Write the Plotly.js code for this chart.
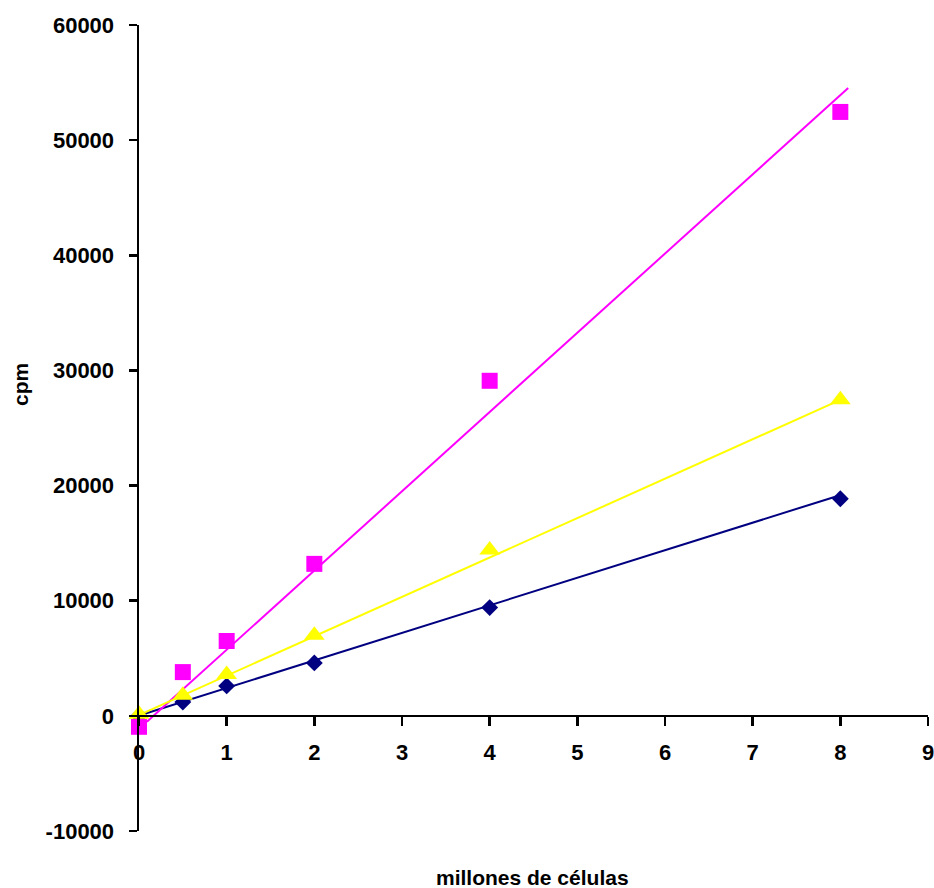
<!DOCTYPE html>
<html>
<head>
<meta charset="utf-8">
<script src="https://cdn.plot.ly/plotly-3.0.1.min.js"></script>
<style>html,body{margin:0;padding:0;background:#fff;}#chart{width:934px;height:888px;}</style>
</head>
<body>
<div id="chart"></div>
<script>
// Data
var cells = [0, 0.5, 1, 2, 4, 8];               // millones de células
var serieAzul = [0, 1200, 2600, 4600, 9400, 18850];
var serieMagenta = [-950, 3800, 6500, 13200, 29100, 52450];
var serieAmarilla = [150, 1800, 3600, 7000, 14400, 27450];

// Linear trendline endpoints
var trendAzulX = [0.03, 7.97];
var trendAzulY = [100, 19100];
var trendMagentaX = [0.09, 8.09];
var trendMagentaY = [-520, 54530];
var trendAmarillaX = [0.03, 7.93];
var trendAmarillaY = [170, 27200];

var yTickVals = [-10000, 0, 10000, 20000, 30000, 40000, 50000, 60000];
var yTickText = ["-10000", "0", "10000", "20000", "30000", "40000", "50000", "60000"];
var xTickVals = [0, 1, 2, 3, 4, 5, 6, 7, 8, 9];

var navy = '#000080', magenta = '#FF00FF', yellow = '#FFFF00';

var traces = [
  {x: trendAzulX, y: trendAzulY, mode: 'lines', line: {color: navy, width: 2}, hoverinfo: 'skip'},
  {x: trendMagentaX, y: trendMagentaY, mode: 'lines', line: {color: magenta, width: 2}, hoverinfo: 'skip'},
  {x: trendAmarillaX, y: trendAmarillaY, mode: 'lines', line: {color: yellow, width: 2}, hoverinfo: 'skip'},
  {x: cells, y: serieAzul, mode: 'markers', cliponaxis: false,
   marker: {symbol: 'diamond', size: 13, color: navy, line: {width: 0}}},
  {x: cells, y: serieMagenta, mode: 'markers', cliponaxis: false,
   marker: {symbol: 'square', size: 16, color: magenta, line: {width: 0}}},
  {x: cells, y: serieAmarilla, mode: 'markers', cliponaxis: false,
   marker: {symbol: 'triangle-up', size: 18, color: yellow, line: {width: 0}}}
];

var tickFont = {family: 'Liberation Sans, Arial, sans-serif', size: 22, color: '#000', weight: 'bold'};

var layout = {
  width: 934, height: 888,
  margin: {l: 139, r: 6, t: 25, b: 57},
  paper_bgcolor: '#fff', plot_bgcolor: '#fff',
  showlegend: false,
  xaxis: {
    range: [0, 9], tickvals: xTickVals, ticktext: xTickVals.map(String),
    anchor: 'free', position: 10000 / 70000,
    showline: true, linecolor: '#000', linewidth: 2.5,
    ticks: 'outside', ticklen: 9, tickwidth: 2.5, tickcolor: '#000',
    showgrid: false, zeroline: false,
    tickfont: tickFont, ticklabelstandoff: 7, ticklabeloverflow: 'allow'
  },
  yaxis: {
    range: [-10000, 60000], tickvals: yTickVals, ticktext: yTickText,
    showline: true, linecolor: '#000', linewidth: 2.5,
    ticks: 'outside', ticklen: 8, tickwidth: 2.5, tickcolor: '#000',
    showgrid: false, zeroline: false,
    tickfont: tickFont, ticklabelstandoff: 10, ticklabeloverflow: 'allow'
  },
  annotations: [
    {text: 'millones de células', xref: 'paper', yref: 'paper',
     x: (532 - 139) / 789, y: -(877 - 831) / 806, xanchor: 'center', yanchor: 'middle',
     showarrow: false, font: {family: 'Liberation Sans, Arial, sans-serif', size: 21, color: '#000', weight: 'bold'}},
    {text: 'cpm', xref: 'paper', yref: 'paper', textangle: -90,
     x: -(139 - 20) / 789, y: (831 - 385) / 806, xanchor: 'center', yanchor: 'middle',
     showarrow: false, font: {family: 'Liberation Sans, Arial, sans-serif', size: 21, color: '#000', weight: 'bold'}}
  ]
};

Plotly.newPlot('chart', traces, layout, {displayModeBar: false, staticPlot: true});
</script>
</body>
</html>
